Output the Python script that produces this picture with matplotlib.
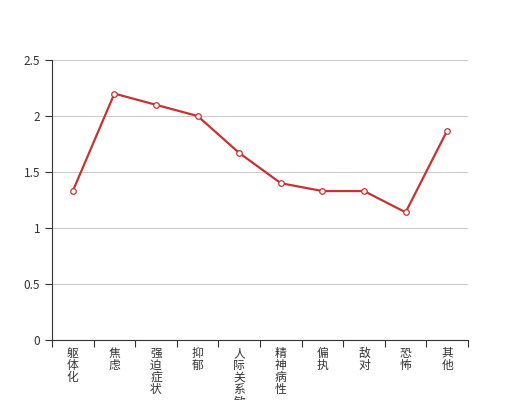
import matplotlib
matplotlib.use("Agg")
import matplotlib.pyplot as plt
from matplotlib.ticker import FixedLocator, NullFormatter

plt.rcParams["font.family"] = ["Noto Sans CJK SC", "DejaVu Sans"]

categories = ["躯体化", "焦虑", "强迫症状", "抑郁", "人际关系敏感",
              "精神病性", "偏执", "敌对", "恐怖", "其他"]
values = [1.33, 2.2, 2.1, 2.0, 1.67, 1.4, 1.33, 1.33, 1.14, 1.87]
y_ticks = [0, 0.5, 1, 1.5, 2, 2.5]

RED = "#c23531"
AXIS = "#333333"

fig = plt.figure(figsize=(5.2, 4.0), dpi=100)
ax = fig.add_axes([52 / 520, 60 / 400, 416 / 520, 280 / 400])

x = list(range(len(categories)))
ax.plot(x, values, color=RED, lw=1.6, marker="o", ms=4,
        markerfacecolor="white", markeredgecolor=RED, markeredgewidth=0.9,
        zorder=3, clip_on=False)

ax.set_xlim(-0.5, len(categories) - 0.5)
ax.set_ylim(0, 2.5)
ax.set_yticks(y_ticks)
ax.set_yticklabels([f"{v:g}" for v in y_ticks], fontsize=8.5, color=AXIS)
ax.grid(axis="y", color="#cccccc", lw=0.8)
ax.set_axisbelow(True)

# category ticks at band edges, labels at centres
ax.xaxis.set_major_locator(FixedLocator([i - 0.5 for i in range(len(categories) + 1)]))
ax.xaxis.set_major_formatter(NullFormatter())
ax.tick_params(axis="x", length=5, color=AXIS)
ax.tick_params(axis="y", length=5, color=AXIS)
# the long label runs off the bottom edge, as in the original
for i, c in enumerate(categories):
    ax.text(i, -0.06, "\n".join(c), ha="center", va="top", fontsize=8.5,
            color=AXIS, linespacing=0.92, transform=ax.transData)

for s in ["top", "right"]:
    ax.spines[s].set_visible(False)
for s in ["left", "bottom"]:
    ax.spines[s].set_color(AXIS)

fig.savefig("out.png", dpi=100, facecolor="white")
